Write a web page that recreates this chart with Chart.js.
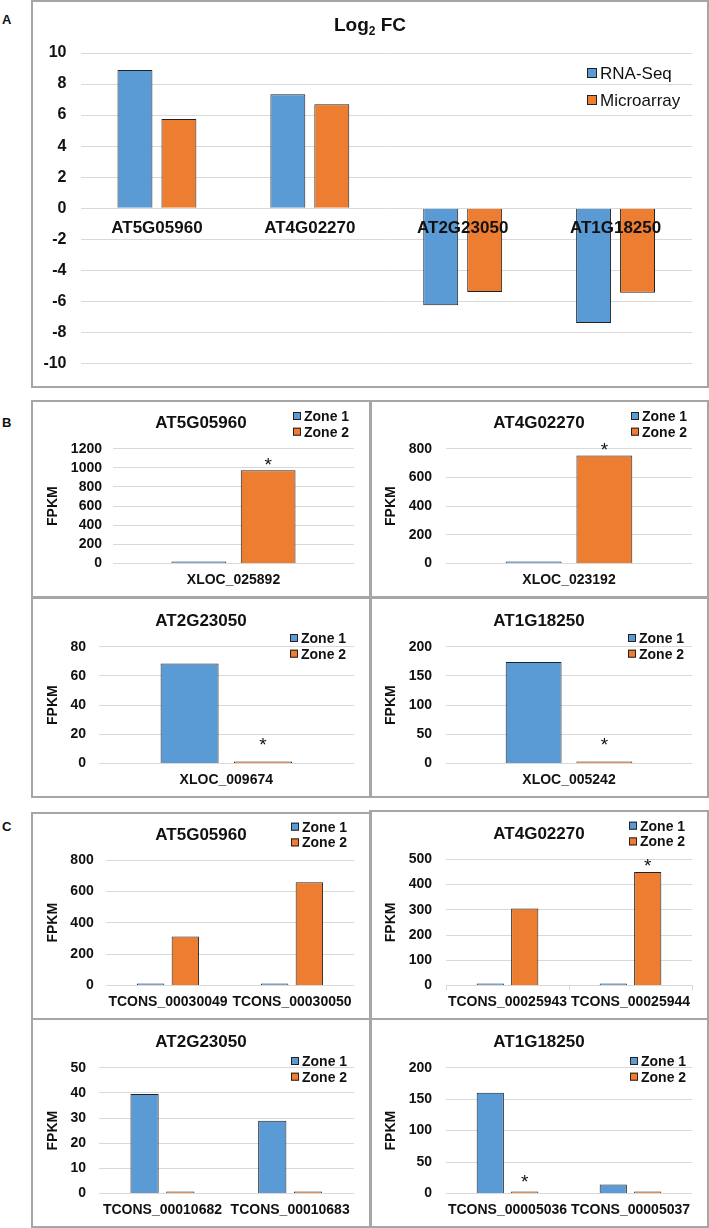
<!DOCTYPE html>
<html>
<head>
<meta charset="utf-8">
<script src="https://cdn.jsdelivr.net/npm/chart.js@4.4.0/dist/chart.umd.min.js"></script>
<style>
  body { margin: 0; background: #fff; width: 709px; height: 1228px; position: relative; overflow: hidden; }
  canvas { position: absolute; }
  .frame { position: absolute; border: 2px solid #a6a6a6; box-sizing: border-box; pointer-events: none; }
  .tag { position: absolute; left: 2px; font: bold 13px 'Liberation Sans', Arial, sans-serif; line-height: 13px; color: #111; }
</style>
</head>
<body>
<canvas id="chartA" width="676" height="387" style="left:32px;top:0px"></canvas>
<canvas id="b0" width="338" height="196" style="left:32px;top:401px"></canvas>
<canvas id="b1" width="338" height="196" style="left:370px;top:401px"></canvas>
<canvas id="b2" width="338" height="200" style="left:32px;top:597px"></canvas>
<canvas id="b3" width="338" height="200" style="left:370px;top:597px"></canvas>
<canvas id="c0" width="338" height="206" style="left:32px;top:813px"></canvas>
<canvas id="c1" width="338" height="208" style="left:370px;top:811px"></canvas>
<canvas id="c2" width="338" height="209" style="left:32px;top:1018px"></canvas>
<canvas id="c3" width="338" height="209" style="left:370px;top:1018px"></canvas>

<div class="frame" style="left:31px;top:0px;width:678px;height:388px"></div>
<div class="frame" style="left:31px;top:400px;width:341px;height:199px"></div>
<div class="frame" style="left:369px;top:400px;width:340px;height:199px"></div>
<div class="frame" style="left:31px;top:596px;width:341px;height:202px"></div>
<div class="frame" style="left:369px;top:596px;width:340px;height:202px"></div>
<div class="frame" style="left:31px;top:812px;width:341px;height:208px"></div>
<div class="frame" style="left:369px;top:810px;width:340px;height:210px"></div>
<div class="frame" style="left:31px;top:1018px;width:341px;height:210px"></div>
<div class="frame" style="left:369px;top:1018px;width:340px;height:210px"></div>

<div class="tag" style="top:13px">A</div>
<div class="tag" style="top:416px">B</div>
<div class="tag" style="top:820px">C</div>

<script>
// Panel A: log2 fold change
const foldGenes = ['AT5G05960', 'AT4G02270', 'AT2G23050', 'AT1G18250'];
const rnaSeq = [8.9, 7.35, -6.25, -7.4];
const microarray = [5.75, 6.7, -5.4, -5.45];

// Panel B: FPKM per XLOC gene
const geneNames = ['AT5G05960', 'AT4G02270', 'AT2G23050', 'AT1G18250'];
const xlocIds = ['XLOC_025892', 'XLOC_023192', 'XLOC_009674', 'XLOC_005242'];
const xlocZone1 = [5, 8, 68.5, 174];
const xlocZone2 = [975, 752, 0.8, 1.5];
const xlocMax = [1200, 800, 80, 200];
const xlocStep = [200, 200, 20, 50];
const xlocStars = [[[1, 0]], [[1, 0]], [[1, 0]], [[1, 0]]];

// Panel C: FPKM per transcript
const tconsIds = [
    ['TCONS_00030049', 'TCONS_00030050'],
    ['TCONS_00025943', 'TCONS_00025944'],
    ['TCONS_00010682', 'TCONS_00010683'],
    ['TCONS_00005036', 'TCONS_00005037']
];
const tconsZone1 = [[2, 2], [3, 4], [39.5, 28.9], [160, 14.5]];
const tconsZone2 = [[312, 658], [305, 450], [0.5, 0.4], [1.5, 0.5]];
const tconsMax = [800, 500, 50, 200];
const tconsStep = [200, 100, 10, 50];
const tconsStars = [[], [[1, 1]], [], [[1, 0]]];

const BLUE = '#5b9bd5';
const ORANGE = '#ed7d31';
const EDGE = '#222222';
const GRID = '#d9d9d9';
const INK = '#111111';
const FONT = "'Liberation Sans', Arial, sans-serif";

Chart.defaults.font.family = FONT;
Chart.defaults.color = INK;
Chart.defaults.animation = false;
Chart.defaults.responsive = false;
Chart.defaults.plugins.legend.display = false;
Chart.defaults.plugins.tooltip.enabled = false;

// baseline that puts the middle of the capitals on y
function capBase(y, size) {
    return y + 0.358 * size;
}

// title, legend and asterisks drawn on top of each chart
function decor(cfg) {
    return {
        id: 'decor',
        afterDraw(chart) {
            const ctx = chart.ctx;
            ctx.save();
            ctx.fillStyle = INK;
            ctx.textAlign = 'left';

            if (cfg.sub) {
                const big = 'bold ' + cfg.titleSize + 'px ' + FONT;
                const small = 'bold ' + cfg.subSize + 'px ' + FONT;
                ctx.font = big;
                const w1 = ctx.measureText(cfg.title).width;
                const w3 = ctx.measureText(cfg.after).width;
                ctx.font = small;
                const w2 = ctx.measureText(cfg.sub).width;
                let x = chart.width / 2 - (w1 + w2 + w3) / 2;
                const base = capBase(cfg.titleY, cfg.titleSize);
                ctx.font = big;
                ctx.fillText(cfg.title, x, base);
                ctx.font = small;
                ctx.fillText(cfg.sub, x + w1, base + 4);
                ctx.font = big;
                ctx.fillText(cfg.after, x + w1 + w2, base);
            } else {
                ctx.font = 'bold ' + cfg.titleSize + 'px ' + FONT;
                ctx.textAlign = 'center';
                ctx.fillText(cfg.title, chart.width / 2, capBase(cfg.titleY, cfg.titleSize));
            }

            ctx.textAlign = 'left';
            chart.data.datasets.forEach((ds, i) => {
                const y = cfg.legendY + i * cfg.legendGap;
                const b = cfg.box;
                ctx.fillStyle = ds.backgroundColor;
                ctx.fillRect(cfg.legendX, y - b / 2, b, b);
                ctx.strokeStyle = EDGE;
                ctx.lineWidth = 1;
                ctx.strokeRect(cfg.legendX + 0.5, y - b / 2 + 0.5, b - 1, b - 1);
                ctx.fillStyle = INK;
                ctx.font = cfg.legendFont + ' ' + cfg.legendSize + 'px ' + FONT;
                ctx.fillText(ds.label, cfg.legendX + b + 3, capBase(y, cfg.legendSize));
            });

            ctx.font = '19px ' + FONT;
            ctx.textAlign = 'center';
            (cfg.stars || []).forEach(([d, i, gap]) => {
                const bar = chart.getDatasetMeta(d).data[i];
                ctx.fillText('*', bar.x, bar.y - gap + 11);
            });
            ctx.restore();
        }
    };
}

new Chart('chartA', {
    type: 'bar',
    data: {
        labels: foldGenes,
        datasets: [
            { label: 'RNA-Seq', data: rnaSeq, backgroundColor: BLUE, borderColor: EDGE, borderWidth: 1 },
            { label: 'Microarray', data: microarray, backgroundColor: ORANGE, borderColor: EDGE, borderWidth: 1 }
        ]
    },
    options: {
        layout: { padding: { top: 53, right: 16, bottom: 16, left: 0 } },
        datasets: { bar: { categoryPercentage: 0.575, barPercentage: 0.795 } },
        scales: {
            x: {
                position: { y: 0 },
                grid: { display: false, drawTicks: false },
                border: { display: false },
                ticks: { z: 1, font: { size: 17, weight: 'bold' }, padding: 10, autoSkip: false, maxRotation: 0 }
            },
            y: {
                min: -10,
                max: 10,
                ticks: { stepSize: 2, autoSkip: false, font: { size: 16, weight: 'bold' }, padding: 14 },
                grid: { color: GRID, drawTicks: false },
                border: { display: false },
                afterFit: s => { s.width = 48.5; }
            }
        }
    },
    plugins: [decor({
        title: 'Log', sub: '2', after: ' FC', titleSize: 19, subSize: 12, titleY: 24,
        legendX: 555, legendY: 73, legendGap: 27, box: 10, legendFont: 'normal', legendSize: 17
    })]
});

function zoneChart(id, labels, zone1, zone2, max, step, lay, stars) {
    return new Chart(id, {
        type: 'bar',
        data: {
            labels: labels,
            datasets: [
                { label: 'Zone 1', data: zone1, backgroundColor: BLUE, borderColor: EDGE, borderWidth: 1, minBarLength: 2 },
                { label: 'Zone 2', data: zone2, backgroundColor: ORANGE, borderColor: EDGE, borderWidth: 1, minBarLength: 2 }
            ]
        },
        options: {
            layout: { padding: { top: lay.top, right: 16, bottom: 0, left: 0 } },
            datasets: { bar: { categoryPercentage: lay.cp, barPercentage: 0.79 } },
            scales: {
                x: {
                    grid: lay.xTicks
                        ? { display: true, drawOnChartArea: false, drawTicks: true, tickLength: 5, color: GRID }
                        : { display: false, drawTicks: false },
                    border: { display: !!lay.xTicks, color: GRID },
                    ticks: {
                        font: { size: 14, weight: 'bold' },
                        padding: lay.xTicks ? 3.3 : 8.3,
                        autoSkip: false,
                        maxRotation: 0,
                        minRotation: 0
                    },
                    afterFit: s => { s.height = 33.5; }
                },
                y: {
                    min: 0,
                    max: max,
                    ticks: {
                        stepSize: step,
                        autoSkip: false,
                        callback: v => String(v),
                        font: { size: 14, weight: 'bold' },
                        padding: lay.pad
                    },
                    grid: { color: GRID, drawTicks: false },
                    border: { display: false },
                    title: { display: true, text: 'FPKM', font: { size: 14, weight: 'bold' }, padding: { top: 12.6, bottom: 0 } },
                    afterFit: s => { s.width = lay.left; }
                }
            }
        },
        plugins: [decor({
            title: lay.title, titleSize: 17, titleY: lay.titleY,
            legendX: lay.lx, legendY: lay.ly, legendGap: 15.7, box: 8, legendFont: 'bold', legendSize: 14,
            stars: stars
        })]
    });
}

const xlocLayout = [
    { left: 81, top: 47.7, pad: 11, cp: 0.575, titleY: 21, lx: 261, ly: 15, gaps: [10] },
    { left: 76, top: 47.7, pad: 14, cp: 0.575, titleY: 21, lx: 261, ly: 15, gaps: [11] },
    { left: 66.6, top: 49.7, pad: 12.6, cp: 0.575, titleY: 22.5, lx: 258, ly: 41, gaps: [22] },
    { left: 76, top: 49.7, pad: 14, cp: 0.575, titleY: 22.5, lx: 258, ly: 41, gaps: [22] }
];

const tconsLayout = [
    { left: 74, top: 47, pad: 12.3, cp: 0.56, titleY: 21, lx: 259, ly: 13.7, gaps: [] },
    { left: 76, top: 48.3, pad: 14, cp: 0.56, titleY: 21.5, lx: 259, ly: 14.7, gaps: [11], xTicks: true },
    { left: 66.6, top: 49.7, pad: 12.6, cp: 0.56, titleY: 22.7, lx: 259, ly: 43, gaps: [] },
    { left: 76, top: 49.7, pad: 14, cp: 0.56, titleY: 22.7, lx: 260, ly: 43, gaps: [15] }
];

geneNames.forEach((gene, k) => {
    const lay = Object.assign({ title: gene }, xlocLayout[k]);
    const stars = xlocStars[k].map((s, j) => [s[0], s[1], lay.gaps[j]]);
    zoneChart('b' + k, [xlocIds[k]], [xlocZone1[k]], [xlocZone2[k]], xlocMax[k], xlocStep[k], lay, stars);
});

geneNames.forEach((gene, k) => {
    const lay = Object.assign({ title: gene }, tconsLayout[k]);
    const stars = tconsStars[k].map((s, j) => [s[0], s[1], lay.gaps[j]]);
    zoneChart('c' + k, tconsIds[k], tconsZone1[k], tconsZone2[k], tconsMax[k], tconsStep[k], lay, stars);
});
</script>
</body>
</html>
